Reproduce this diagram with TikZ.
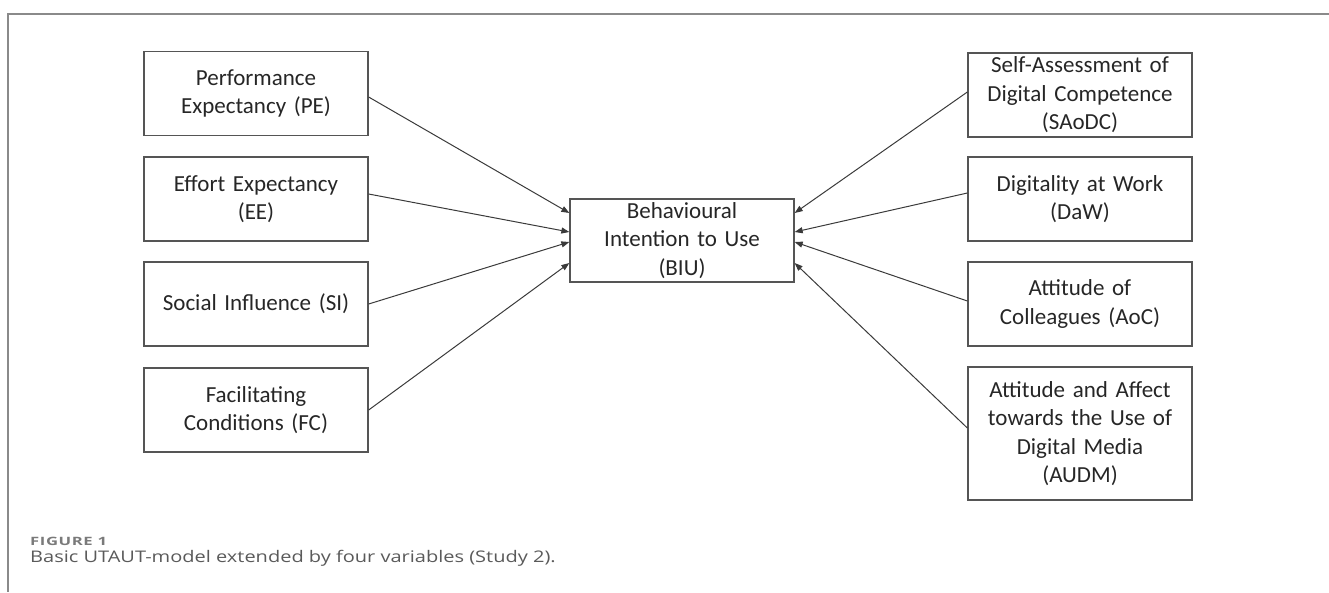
\documentclass[tikz,border=0pt]{standalone}
\usepackage{fontspec}
\setmainfont{Carlito}
\newfontfamily\capfont[FakeStretch=1.25]{Open Sans}
\newfontfamily\figfont[LetterSpace=5,FakeStretch=1.45]{Open Sans}
\usetikzlibrary{arrows.meta}
\definecolor{boxline}{HTML}{555555}
\definecolor{arrline}{HTML}{3A3A3A}
\definecolor{framecol}{HTML}{8A8A8A}
\definecolor{capgray}{HTML}{5A5A5A}
\definecolor{figgray}{HTML}{7A7A7A}
\tikzset{
  varbox/.style={draw=boxline, line width=1.3pt, minimum width=224pt, minimum height=84pt,
    inner sep=2pt, align=center, text width=218pt, text=black!85,
    font=\fontsize{23}{28.5}\selectfont},
  link/.style={draw=arrline, line width=1pt, -{Triangle[length=8pt,width=6pt]}}
}
\begin{document}
\begin{tikzpicture}[x=1pt,y=-1pt]
\useasboundingbox (0,0) rectangle (1329,592);
\draw[framecol, line width=2pt] (1329,13.5) -- (7.5,13.5) -- (7.5,592);
% left column
\node[varbox] (PE) at (256,93.5) {Performance\\Expectancy (PE)};
\node[varbox] (EE) at (256,199) {Effort Expectancy\\(EE)};
\node[varbox] (SI) at (256,304) {Social Influence (SI)};
\node[varbox] (FC) at (256,410) {Facilitating\\Conditions (FC)};
% centre
\node[varbox, minimum height=83pt] (BIU) at (682,240.5) {Behavioural\\Intention to Use\\(BIU)};
% right column
\node[varbox] (SA) at (1080,95) {Self-Assessment of\\Digital Competence\\(SAoDC)};
\node[varbox] (DAW) at (1080,199) {Digitality at Work\\(DaW)};
\node[varbox] (AOC) at (1080,304) {Attitude of\\Colleagues (AoC)};
\node[varbox, minimum height=133pt] (AUDM) at (1080,433.5) {Attitude and Affect\\towards the Use of\\Digital Media\\(AUDM)};
% connectors
\draw[link] ([yshift=-3.5pt]PE.east) -- ([yshift=27.5pt]BIU.west);
\draw[link] ([yshift=5pt]EE.east) -- ([yshift=8.5pt]BIU.west);
\draw[link] (SI.east) -- ([yshift=-1.5pt]BIU.west);
\draw[link] (FC.east) -- ([yshift=-22.5pt]BIU.west);
\draw[link] ([yshift=3pt]SA.west) -- ([yshift=27.5pt]BIU.east);
\draw[link] ([yshift=6pt]DAW.west) -- ([yshift=8.5pt]BIU.east);
\draw[link] ([yshift=3pt]AOC.west) -- ([yshift=-1.5pt]BIU.east);
\draw[link] ([yshift=5.5pt]AUDM.west) -- ([yshift=-22.5pt]BIU.east);
% caption
\node[anchor=base west, inner sep=0pt, text=figgray, font={\figfont\bfseries\fontsize{11.5}{13}\selectfont}] (figlab) at (30,545) {FIGURE 1};
\node[anchor=base west, inner sep=0pt, text=capgray, font={\capfont\fontsize{16}{19}\selectfont}] (cap) at (30,562) {Basic UTAUT-model extended by four variables (Study 2).};
\end{tikzpicture}
\end{document}
